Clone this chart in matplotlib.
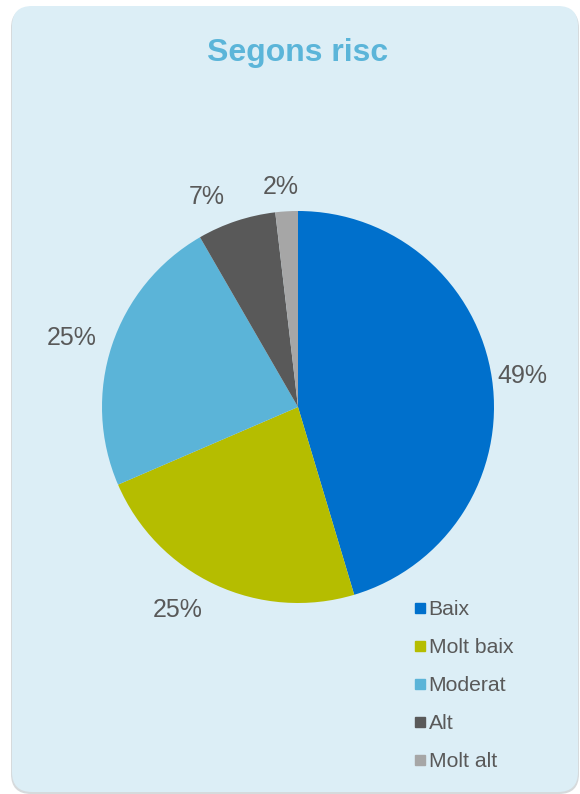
import matplotlib
matplotlib.use("Agg")
import numpy as np
import matplotlib.pyplot as plt
from matplotlib.patches import FancyBboxPatch
from matplotlib.lines import Line2D

plt.rcParams['font.family'] = ['Liberation Sans', 'DejaVu Sans']

# Data
categories = ["Baix", "Molt baix", "Moderat", "Alt", "Molt alt"]
values = [49, 25, 25, 7, 2]
colors = ["#0070CC", "#B5BD00", "#5BB4D8", "#595959", "#A6A6A6"]
title = "Segons risc"

# Label placement tweaks: radial distance (in radii) and angular nudge (deg, clockwise)
label_dist = [1.156, 1.203, 1.207, 1.171, 1.126]
label_nudge = [0.4, 5.6, -1.3, -5.2, -1.2]

W, H = 580, 794
fig = plt.figure(figsize=(W / 100, H / 100), dpi=100, facecolor="white")

# Rounded panel in pixel units
bg = fig.add_axes([0, 0, 1, 1])
bg.set_xlim(0, W)
bg.set_ylim(H, 0)
bg.axis("off")
shadow = FancyBboxPatch((11, 8), 568, 786, boxstyle="round,pad=0,rounding_size=20",
                        facecolor="#D6DADC", edgecolor="none", zorder=0)
panel = FancyBboxPatch((12, 6), 566, 786, boxstyle="round,pad=0,rounding_size=20",
                       facecolor="#DCEEF6", edgecolor="none", zorder=1)
bg.add_patch(shadow)
bg.add_patch(panel)
bg.text(297.5, 61, title, ha="center", va="baseline", fontsize=23,
        fontweight="bold", color="#5BB5D9", zorder=2)

# Pie
cx, cy, R = 298, 407, 196
span = 1.4
side = 2 * span * R
ax = fig.add_axes([(cx - side / 2) / W, (H - cy - side / 2) / H, side / W, side / H])
ax.patch.set_alpha(0)

wedges, _ = ax.pie(values, colors=colors, startangle=90, counterclock=False,
                   wedgeprops=dict(linewidth=0))
for w, v, d, n in zip(wedges, values, label_dist, label_nudge):
    theta = np.deg2rad((w.theta1 + w.theta2) / 2 - n)
    ax.text(d * np.cos(theta), d * np.sin(theta), f"{v}%", ha="center", va="center",
            fontsize=18, color="#595959")
ax.set_xlim(-span, span)
ax.set_ylim(-span, span)
ax.set_aspect("equal")
ax.axis("off")

handles = [Line2D([0], [0], marker="s", linestyle="none", markersize=7.5,
                  markerfacecolor=c, markeredgecolor=c) for c in colors]
fig.legend(handles, categories, loc="upper left",
           bbox_to_anchor=(414.8 / W, (H - 600) / H), frameon=False,
           fontsize=15.2, labelcolor="#595959", handlelength=0.5,
           handletextpad=0.16, labelspacing=0.9, borderpad=0, borderaxespad=0)

fig.savefig("out.png", dpi=100, facecolor="white")
